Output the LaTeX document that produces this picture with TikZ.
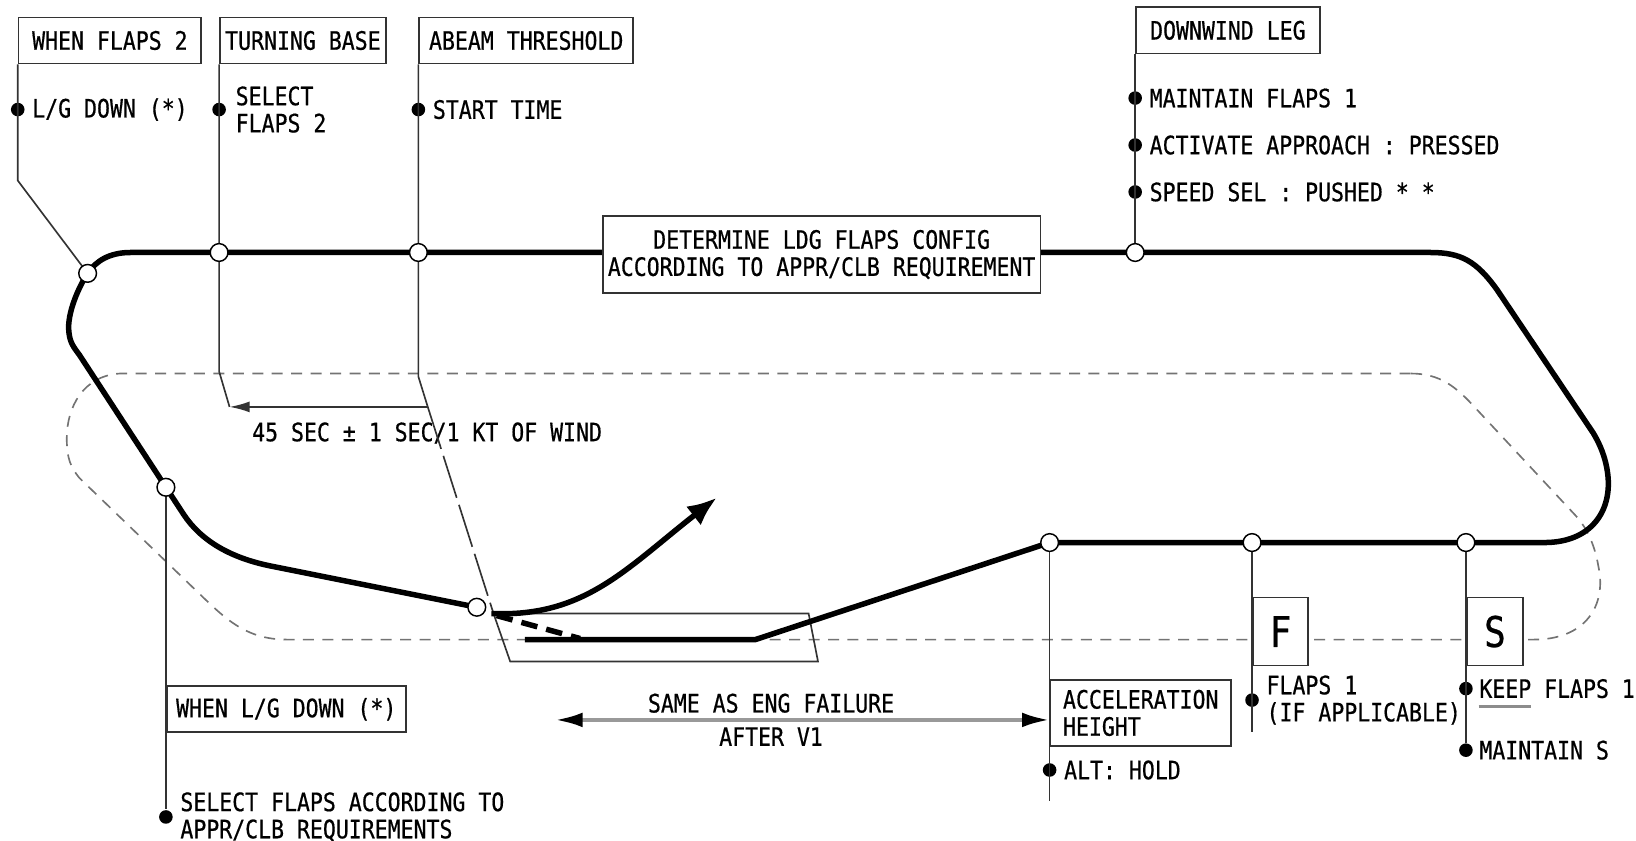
\documentclass[tikz,border=0pt]{standalone}
\usepackage{fontspec}
\newfontfamily\chartfont[FakeStretch=0.85,FakeBold=0.6]{DejaVu Sans Mono}
\usetikzlibrary{arrows.meta,positioning}
\tikzset{
  track/.style={line width=1.5pt, line join=round},
  lead/.style={line width=0.45pt, draw=black!80},
  hold/.style={draw=black!55, line width=0.45pt, dash pattern=on 3pt off 2.3pt},
  fix/.style={circle, draw, fill=white, line width=0.4pt, inner sep=0pt, minimum size=1.7mm},
  dot/.style={circle, fill, inner sep=0pt, minimum size=1.3mm},
  tag/.style={draw=black!80, fill=white, line width=0.45pt, inner sep=0pt, anchor=north west,
    font=\chartfont\fontsize{6.9}{7.4}\selectfont},
  note/.style={inner sep=0pt, align=left, font=\chartfont\fontsize{6.9}{7.4}\selectfont},
}
\begin{document}
\begin{tikzpicture}[x=0.01cm, y=-0.01cm]
\useasboundingbox (0,0) rectangle (1568,806);

% fixes on the circuit
\coordinate (cWF) at (84,262);
\coordinate (cTB) at (210,242);
\coordinate (cAT) at (401,242);
\coordinate (cDL) at (1088,242);
\coordinate (cL2) at (159,467);
\coordinate (cT) at (457,582);
\coordinate (cAC) at (1006,520);
\coordinate (cF) at (1200,520);
\coordinate (cS) at (1405,520);
% runway
\coordinate (rTL) at (473,588);
\coordinate (rTR) at (775,588);
\coordinate (rBR) at (784,634);
\coordinate (rBL) at (489,634);
\coordinate (cTA) at (410,390);
\coordinate (cTB2) at (220,390);

% engine out circuit
\draw[hold] (1352,358) -- (115,358) .. controls (80,360) and (64,390) .. (64,420)
  .. controls (64,440) and (68,448) .. (76,458) -- (190,568)
  .. controls (215,592) and (235,613) .. (275,613) -- (1470,613)
  .. controls (1520,613) and (1540,580) .. (1532,543)
  .. controls (1528,520) and (1520,505) .. (1510,494) -- (1415,392)
  .. controls (1395,370) and (1380,358) .. (1352,358) -- cycle;

% boxes
\node[tag, minimum width=1.75cm, minimum height=0.44cm] (bWF) at (17,16) {WHEN FLAPS 2};
\node[tag, minimum width=1.59cm, minimum height=0.44cm] (bTB) at (210,16) {TURNING BASE};
\node[tag, minimum width=2.05cm, minimum height=0.44cm] (bAT) at (401,16) {ABEAM THRESHOLD};
\node[tag, minimum width=1.76cm, minimum height=0.445cm] (bDL) at (1088,6) {DOWNWIND LEG};
\node[tag, minimum width=2.29cm, minimum height=0.44cm] (bLG) at (159,657) {WHEN L/G DOWN (*)};
\node[tag, align=left, minimum width=1.73cm, minimum height=0.63cm] (bAC) at (1006,651) {ACCELERATION\\HEIGHT};
\node[tag, minimum width=0.53cm, minimum height=0.65cm, font=\chartfont\fontsize{11.5}{12}\selectfont] (bF) at (1200,572) {F};
\node[tag, minimum width=0.54cm, minimum height=0.65cm, font=\chartfont\fontsize{11.5}{12}\selectfont] (bS) at (1405,572) {S};

% items
\node[dot] (dLG) at (17,105) {};
\node[note, right=0.6mm of dLG] (tLG) {L/G DOWN (*)};
\node[dot] (dSF) at (210,105) {};
\node[note, right=0.8mm of dSF] (tSF) {SELECT\\FLAPS 2};
\node[dot] (dST) at (401,105) {};
\node[note, right=0.6mm of dST] (tST) {START TIME};
\node[dot] (dMF) at (1088,94) {};
\node[note, right=0.6mm of dMF] (tMF) {MAINTAIN FLAPS 1};
\node[dot] (dAA) at (1088,139) {};
\node[note, right=0.6mm of dAA] (tAA) {ACTIVATE APPROACH : PRESSED};
\node[dot] (dSS) at (1088,184) {};
\node[note, right=0.6mm of dSS] (tSS) {SPEED SEL : PUSHED * *};
\node[dot] (dSL) at (159,783) {};
\node[note, right=0.6mm of dSL] (tSL) {SELECT FLAPS ACCORDING TO\\APPR/CLB REQUIREMENTS};
\node[dot] (dAH) at (1006,738) {};
\node[note, right=0.6mm of dAH] (tAH) {ALT: HOLD};
\node[dot] (dF1) at (1200,671) {};
\node[note, right=0.6mm of dF1] (tF1) {FLAPS 1\\(IF APPLICABLE)};
\node[dot] (dKF) at (1405,660) {};
\node[note, right=0.5mm of dKF] (tKF) {KEEP FLAPS 1};
\node[dot] (dMS) at (1405,719) {};
\node[note, right=0.5mm of dMS] (tMS) {MAINTAIN S};
\draw[black!45, line width=0.8pt] ([yshift=-0.8mm]tKF.base west) -- ++(50,0);

% leaders
\draw[lead] (bWF.south west) -- (17,173) -- (cWF);
\draw[lead] (bTB.south west) -- (210,356) -- (cTB2);
\draw[lead] (bAT.south west) -- (401,361) -- (cTA);
\draw[lead] (bDL.south west) -- (cDL);
\draw[lead] (cL2) -- (dSL);
\draw[lead] (cAC) -- (1006,768);
\draw[lead] (cF) -- (1200,702);
\draw[lead] (cS) -- (dMS);
\draw[lead, -{Latex[length=5.5pt,width=3pt]}] (cTA) -- (cTB2);
\node[note, anchor=west] (wind) at (241,415) {45 SEC ± 1 SEC/1 KT OF WIND};

% runway
\draw[lead, dash pattern=on 12pt off 2pt] (cTA) -- (rTL);
\draw[lead] (rTL) -- (rTR) -- (rBR) -- (rBL) -- (rTL);

% circuit
\draw[track] (503,613) -- (724,613) -- (cAC) -- (cF) -- (cS) -- (1480,520)
  .. controls (1525,520) and (1545,490) .. (1541,455)
  .. controls (1539,438) and (1533,425) .. (1527,415) -- (1435,278)
  .. controls (1415,250) and (1400,242) .. (1371,242) -- (cDL) -- (cAT) -- (cTB) -- (125,242)
  .. controls (105,242) and (92,250) .. (cWF)
  .. controls (76,274) and (64,300) .. (66,318)
  .. controls (67,328) and (70,332) .. (76,340) -- (cL2) -- (176,493)
  .. controls (192.5,518) and (220.5,534.7) .. (260,542.6) -- (cT);
\draw[track, dash pattern=on 4.5pt off 2.5pt] (476,590) -- (556,612);
\draw[track, -{Latex[length=8pt,width=6.5pt]}] (471,588) .. controls (560,592) and (600,545) .. (687,477);

\node[tag, anchor=center, align=center, minimum width=4.19cm, minimum height=0.74cm] (bDET) at (787.5,244)
  {DETERMINE LDG FLAPS CONFIG\\ACCORDING TO APPR/CLB REQUIREMENT};

\foreach \f in {cWF,cTB,cAT,cDL,cL2,cT,cAC,cF,cS}
  \node[fix] (f\f) at (\f) {};

% engine failure after V1
\coordinate (eL) at (532,690);
\coordinate (eR) at (1006,690);
\draw[black!40, line width=1.1pt, {Latex[length=7.5pt,width=4pt,black]}-{Latex[length=7.5pt,width=4pt,black]}] (eL) -- (eR);
\node[note] (tEF) at (739,674) {SAME AS ENG FAILURE};
\node[note] (tV1) at (739,706) {AFTER V1};
\end{tikzpicture}
\end{document}
